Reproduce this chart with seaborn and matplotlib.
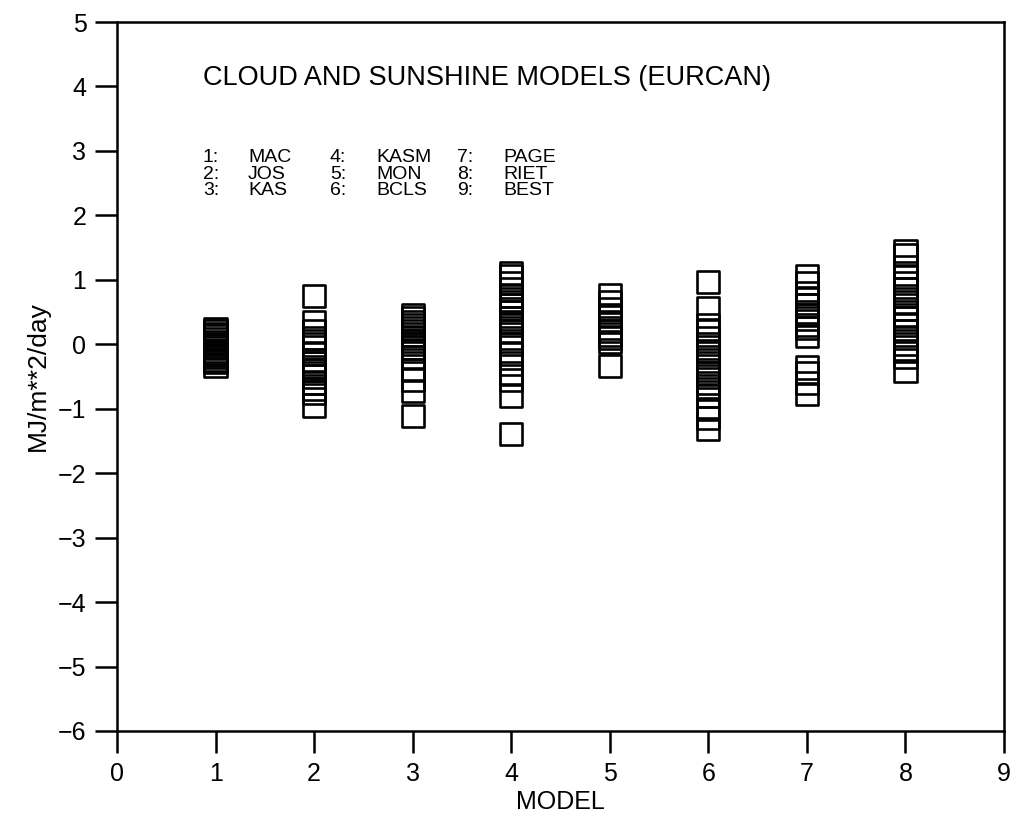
import matplotlib
matplotlib.use("Agg")
import matplotlib.pyplot as plt
import seaborn as sns
import pandas as pd

# Residuals (MJ/m**2/day) of each cloud/sunshine radiation model
model_1 = [0.24, 0.2, 0.16, 0.12, 0.08, 0.04, 0.0, -0.03, -0.06, -0.1, -0.13,
           -0.17, -0.2, -0.24, -0.28, -0.33]
model_2 = [0.75, 0.35, 0.2, 0.1, 0.05, -0.05, -0.15, -0.25, -0.3, -0.35, -0.4,
           -0.45, -0.5, -0.6, -0.7, -0.75, -0.95]
model_3 = [0.46, 0.4, 0.35, 0.3, 0.25, 0.2, 0.15, 0.1, 0.05, 0.0, -0.05, -0.1,
           -0.2, -0.4, -0.55, -0.72, -1.11]
model_4 = [1.1, 1.05, 0.95, 0.85, 0.75, 0.65, 0.6, 0.55, 0.5, 0.4, 0.35, 0.3,
           0.2, 0.1, 0.0, -0.15, -0.3, -0.45, -0.55, -0.8, -1.39]
model_5 = [0.77, 0.65, 0.55, 0.45, 0.35, 0.25, 0.2, 0.15, 0.1, 0.04, -0.34]
model_6 = [0.96, 0.56, 0.3, 0.2, 0.1, 0.0, -0.1, -0.2, -0.3, -0.4, -0.45, -0.5,
           -0.6, -0.7, -0.8, -1.0, -1.15, -1.31]
model_7 = [1.06, 0.95, 0.8, 0.7, 0.6, 0.5, 0.45, 0.4, 0.3, 0.25, 0.13, -0.36,
           -0.45, -0.6, -0.77]
model_8 = [1.45, 1.38, 1.2, 1.05, 0.95, 0.85, 0.75, 0.65, 0.55, 0.45, 0.4, 0.3,
           0.2, 0.1, 0.0, -0.1, -0.2, -0.41]
residuals = [model_1, model_2, model_3, model_4, model_5, model_6, model_7, model_8]

model_names = ["MAC", "JOS", "KAS", "KASM", "MON", "BCLS", "PAGE", "RIET", "BEST"]
title_text = "CLOUD AND SUNSHINE MODELS (EURCAN)"
x_ticks = list(range(0, 10))
y_ticks = list(range(-6, 6))

rows = []
for i, vals in enumerate(residuals, start=1):
    for v in vals:
        rows.append({"model": i, "value": v})
df = pd.DataFrame(rows)

sns.set_style("ticks")
plt.rcParams["font.family"] = ["Liberation Sans", "DejaVu Sans"]
plt.rcParams["text.color"] = "black"
plt.rcParams["axes.labelcolor"] = "black"

fig = plt.figure(figsize=(10.16, 8.18), dpi=100)
ax = fig.add_axes([0.1152, 0.1064, 0.8730, 0.8667])

sns.scatterplot(data=df, x="model", y="value", ax=ax, marker="s", s=256,
                facecolor="none", edgecolor="black", linewidth=1.9, legend=False)

ax.set_xlim(0, 9)
ax.set_ylim(-6, 5)
ax.set_xticks(x_ticks)
ax.set_yticks(y_ticks)
ax.set_yticklabels([str(t).replace("-", "\u2212") for t in y_ticks])
ax.tick_params(direction="out", length=16, width=1.8, labelsize=18, pad=6,
               colors="black")
for side in ["top", "right", "bottom", "left"]:
    ax.spines[side].set_visible(True)
    ax.spines[side].set_linewidth(1.8)
    ax.spines[side].set_color("black")

ax.set_xlabel("MODEL", fontsize=18, labelpad=3)
ax.set_ylabel("MJ/m**2/day", fontsize=19, labelpad=6)

ax.text(0.87, 4.13, title_text, fontsize=19.5, va="center", ha="left")

# Model key laid out in three columns
key_font = 14
row_y = [2.89, 2.64, 2.39]
col_x = [(0.87, 1.33), (2.16, 2.63), (3.45, 3.92)]
for k, name in enumerate(model_names):
    col, row = divmod(k, 3)
    nx, tx = col_x[col]
    ax.text(nx, row_y[row], f"{k + 1}:", fontsize=key_font, va="center", ha="left")
    ax.text(tx, row_y[row], name, fontsize=key_font, va="center", ha="left")

fig.savefig("out.png", dpi=100)
